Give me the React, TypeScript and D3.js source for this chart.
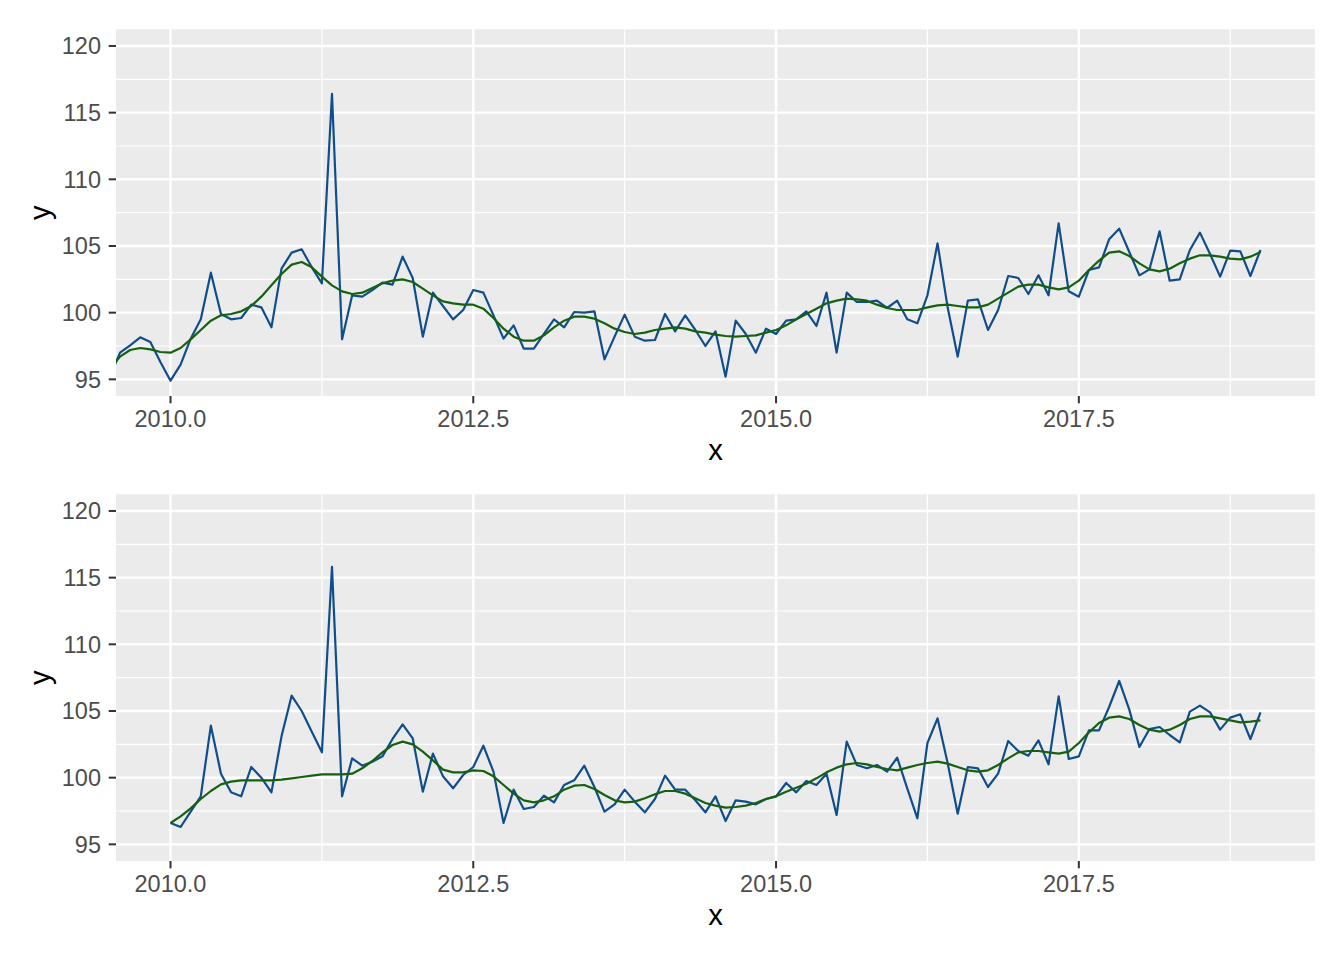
import React from "react";
import * as d3 from "d3";

// Month offsets are counted from January 2010 (x = 2010 + month / 12)
const topStartMonth = -6;
const bottomStartMonth = 0;

const topObserved = [
  95.2, 97.0, 97.55, 98.15, 97.8, 96.3,
  94.9, 96.1, 98.05, 99.5, 103.0, 99.9, 99.5, 99.6, 100.6, 100.4, 98.9, 103.3,
  104.5, 104.75, 103.4, 102.2, 116.4, 98.0, 101.3, 101.2, 101.7, 102.25, 102.1, 104.2,
  102.6, 98.2, 101.5, 100.5, 99.5, 100.2, 101.7, 101.5, 99.8, 98.05, 99.05, 97.3,
  97.3, 98.4, 99.5, 98.9, 100.05, 100.0, 100.1, 96.5, 98.2, 99.85, 98.2, 97.9,
  97.95, 99.9, 98.6, 99.8, 98.7, 97.5, 98.6, 95.2, 99.4, 98.4, 97.0, 98.8,
  98.4, 99.4, 99.5, 100.1, 99.0, 101.5, 97.0, 101.5, 100.8, 100.8, 100.9, 100.35,
  100.9, 99.5, 99.2, 101.3, 105.2, 100.4, 96.7, 100.9, 101.0, 98.7, 100.2, 102.75,
  102.6, 101.4, 102.8, 101.3, 106.7, 101.6, 101.2, 103.2, 103.4, 105.5, 106.3, 104.55,
  102.8, 103.25, 106.1, 102.4, 102.5, 104.7, 106.0, 104.4, 102.7, 104.65, 104.6, 102.75,
  104.7,
];

const topSmooth = [
  95.8, 96.7, 97.2, 97.35, 97.25, 97.05,
  97.0, 97.35, 98.0, 98.7, 99.4, 99.8, 99.9, 100.1, 100.5, 101.2, 102.05, 102.9,
  103.6, 103.8, 103.4, 102.7, 102.05, 101.6, 101.4, 101.5, 101.85, 102.2, 102.4, 102.5,
  102.3, 101.8, 101.3, 100.85, 100.7, 100.6, 100.6, 100.3, 99.6, 98.8, 98.2, 97.9,
  97.9, 98.3, 98.9, 99.4, 99.7, 99.7, 99.55, 99.2, 98.8, 98.55, 98.4, 98.5,
  98.7, 98.8, 98.9, 98.8, 98.6, 98.5, 98.35, 98.25, 98.2, 98.25, 98.3, 98.5,
  98.7, 99.05, 99.5, 99.9, 100.3, 100.7, 100.9, 101.05, 101.0, 100.9, 100.6, 100.35,
  100.2, 100.2, 100.2, 100.4, 100.55, 100.6, 100.5, 100.4, 100.4, 100.6, 101.05, 101.5,
  101.95, 102.1, 102.1, 101.9, 101.75, 101.9, 102.4, 103.2, 103.9, 104.5, 104.6, 104.25,
  103.7, 103.25, 103.1, 103.3, 103.7, 104.05, 104.3, 104.3, 104.2, 104.05, 104.0, 104.2,
  104.55,
];

const bottomObserved = [
  96.6, 96.3, 97.45, 98.6, 103.9, 100.3, 98.9, 98.6, 100.8, 100.0, 98.9, 103.1,
  106.15, 105.0, 103.45, 101.9, 115.8, 98.6, 101.45, 100.9, 101.2, 101.6, 102.9, 104.0,
  102.95, 98.95, 101.8, 100.1, 99.2, 100.2, 100.8, 102.4, 100.45, 96.6, 99.1, 97.65,
  97.8, 98.65, 98.15, 99.45, 99.8, 100.9, 99.3, 97.45, 98.0, 99.1, 98.2, 97.4,
  98.4, 100.15, 99.1, 99.1, 98.3, 97.4, 98.6, 96.75, 98.3, 98.2, 98.0, 98.4,
  98.6, 99.6, 98.9, 99.75, 99.45, 100.3, 97.2, 102.7, 100.95, 100.7, 100.95, 100.45,
  101.5, 99.2, 96.95, 102.6, 104.45, 101.1, 97.3, 100.8, 100.7, 99.3, 100.3, 102.75,
  102.0, 101.65, 102.8, 101.0, 106.1, 101.4, 101.6, 103.55, 103.55, 105.3, 107.25, 105.1,
  102.3, 103.65, 103.8, 103.2, 102.65, 104.95, 105.4, 104.9, 103.6, 104.5, 104.75, 102.9,
  104.9,
];

const bottomSmooth = [
  96.6, 97.1, 97.7, 98.4, 99.0, 99.5, 99.7, 99.8, 99.8, 99.8, 99.8, 99.85,
  99.95, 100.05, 100.15, 100.25, 100.25, 100.25, 100.3, 100.7, 101.25, 101.9, 102.45, 102.7,
  102.5, 101.95, 101.3, 100.6, 100.4, 100.4, 100.55, 100.5, 100.1, 99.45, 98.8, 98.3,
  98.15, 98.3, 98.6, 99.1, 99.4, 99.45, 99.15, 98.7, 98.3, 98.15, 98.2, 98.45,
  98.75, 99.0, 99.0, 98.8, 98.45, 98.1, 97.9, 97.75, 97.8, 97.9, 98.1, 98.4,
  98.6, 98.95, 99.25, 99.55, 99.95, 100.4, 100.75, 101.0, 101.1, 101.0, 100.8, 100.65,
  100.55, 100.75, 100.95, 101.1, 101.2, 101.05, 100.8, 100.55, 100.45, 100.55, 100.95, 101.45,
  101.9, 102.0, 102.0, 101.9, 101.8, 101.95, 102.6, 103.4, 104.1, 104.5, 104.6, 104.4,
  103.95, 103.6, 103.45, 103.6, 103.95, 104.4, 104.6, 104.6, 104.45, 104.3, 104.15, 104.2,
  104.3,
];

const xTicks = [2010, 2012.5, 2015, 2017.5];
const xMinor = [2011.25, 2013.75, 2016.25, 2018.75];
const yTicks = [95, 100, 105, 110, 115, 120];
const yMinor = [97.5, 102.5, 107.5, 112.5, 117.5];

const xDomain: [number, number] = [2009.55, 2019.45];
const yDomain: [number, number] = [93.75, 121.25];

const FONT = "'Liberation Sans', Arial, Helvetica, sans-serif";
const BLUE = "#104E8B";
const GREEN = "#176010";

type Pt = { x: number; y: number };

function toPoints(start: number, vals: number[]): Pt[] {
  return vals.map((v, i) => ({ x: 2010 + (start + i) / 12, y: v }));
}

function Panel({
  top,
  bottom,
  observed,
  smooth,
  start,
  id,
}: {
  top: number;
  bottom: number;
  observed: number[];
  smooth: number[];
  start: number;
  id: string;
}) {
  const left = 116;
  const right = 1315;
  const x = d3.scaleLinear().domain(xDomain).range([left, right]);
  const y = d3.scaleLinear().domain(yDomain).range([bottom, top]);
  const line = d3
    .line<Pt>()
    .x((d) => x(d.x))
    .y((d) => y(d.y));
  const obs = toPoints(start, observed);
  const sm = toPoints(start, smooth);
  return (
    <g>
      <defs>
        <clipPath id={id}>
          <rect x={left} y={top} width={right - left} height={bottom - top} />
        </clipPath>
      </defs>
      <rect x={left} y={top} width={right - left} height={bottom - top} fill="#EBEBEB" />
      {yMinor.map((t) => (
        <line key={"ym" + t} x1={left} x2={right} y1={y(t)} y2={y(t)} stroke="#fff" strokeWidth={1.2} />
      ))}
      {xMinor.map((t) => (
        <line key={"xm" + t} x1={x(t)} x2={x(t)} y1={top} y2={bottom} stroke="#fff" strokeWidth={1.2} />
      ))}
      {yTicks.map((t) => (
        <line key={"yM" + t} x1={left} x2={right} y1={y(t)} y2={y(t)} stroke="#fff" strokeWidth={2.4} />
      ))}
      {xTicks.map((t) => (
        <line key={"xM" + t} x1={x(t)} x2={x(t)} y1={top} y2={bottom} stroke="#fff" strokeWidth={2.4} />
      ))}
      <g clipPath={`url(#${id})`}>
        <path d={line(obs) || ""} fill="none" stroke={BLUE} strokeWidth={2.2} strokeLinejoin="round" />
        <path d={line(sm) || ""} fill="none" stroke={GREEN} strokeWidth={2.2} strokeLinejoin="round" />
      </g>
      {yTicks.map((t) => (
        <g key={"yt" + t}>
          <line x1={left - 7.3} x2={left} y1={y(t)} y2={y(t)} stroke="#333" strokeWidth={2} />
          <text
            x={left - 15}
            y={y(t) + 8.4}
            textAnchor="end"
            fontSize={23.5}
            fill="#4D4D4D"
            fontFamily={FONT}
          >
            {t}
          </text>
        </g>
      ))}
      {xTicks.map((t) => (
        <g key={"xt" + t}>
          <line x1={x(t)} x2={x(t)} y1={bottom} y2={bottom + 7.3} stroke="#333" strokeWidth={2} />
          <text
            x={x(t)}
            y={bottom + 30.7}
            textAnchor="middle"
            fontSize={23.5}
            fill="#4D4D4D"
            fontFamily={FONT}
          >
            {t.toFixed(1)}
          </text>
        </g>
      ))}
      <text
        x={(left + right) / 2}
        y={bottom + 63.6}
        textAnchor="middle"
        fontSize={29.3}
        fill="#000"
        fontFamily={FONT}
      >
        x
      </text>
      <text
        transform={`translate(50, ${(top + bottom) / 2}) rotate(-90)`}
        textAnchor="middle"
        fontSize={29.3}
        fill="#000"
        fontFamily={FONT}
      >
        y
      </text>
    </g>
  );
}

export default function App() {
  return (
    <svg
      width={1344}
      height={960}
      style={{ position: "absolute", left: 0, top: 0, background: "#fff" }}
    >
      <rect x={0} y={0} width={1344} height={960} fill="#fff" />
      <Panel top={29.3} bottom={396} observed={topObserved} smooth={topSmooth} start={topStartMonth} id="clipTop" />
      <Panel top={494.3} bottom={861} observed={bottomObserved} smooth={bottomSmooth} start={bottomStartMonth} id="clipBottom" />
    </svg>
  );
}
